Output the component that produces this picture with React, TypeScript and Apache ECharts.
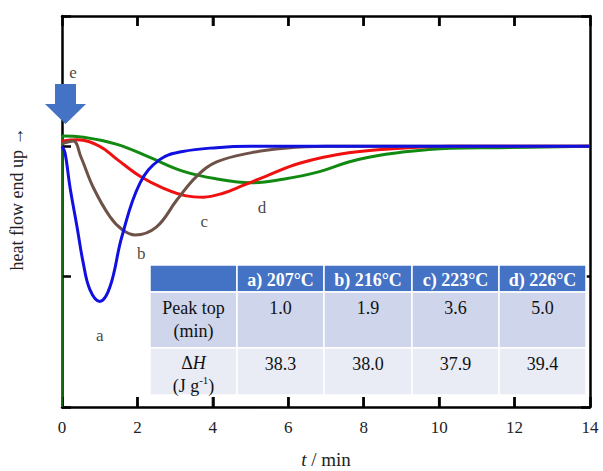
import { useEffect, useRef } from "react";
import * as echarts from "echarts";

const FONT = "Liberation Serif, serif";

const xTickVals = [2, 4, 6, 8, 10, 12];

// curve a (207 °C)
const tA = [0, 0.08, 0.21, 0.4, 0.56, 0.74, 1.0, 1.27, 1.59, 2.07, 2.6, 3.2, 4.1, 5, 6, 8, 10, 12, 14];
const vA = [0, -0.05, -0.31, -0.62, -0.89, -1.1, -1.19, -1.08, -0.69, -0.28, -0.1, -0.04, -0.01, 0, 0, 0, 0, 0, 0];
// curve b (216 °C)
const tB = [0, 0.3, 0.5, 0.82, 1.27, 1.6, 1.94, 2.5, 3.05, 3.57, 4.1, 5.0, 5.9, 7, 10, 14];
const vB = [0.02, 0.04, -0.08, -0.31, -0.54, -0.64, -0.68, -0.62, -0.41, -0.23, -0.12, -0.05, -0.015, 0, 0, 0];
// curve c (223 °C)
const tC = [0, 0.4, 1.0, 1.46, 2.07, 2.68, 3.3, 3.75, 4.27, 4.8, 5.4, 6.3, 7.6, 9, 10.3, 12, 14];
const vC = [0.04, 0.05, 0, -0.1, -0.23, -0.32, -0.38, -0.39, -0.36, -0.3, -0.23, -0.13, -0.05, -0.015, 0, 0, 0];
// curve d (226 °C)
const tD = [0, 0.56, 1.46, 2.33, 3.2, 4.1, 5.0, 5.9, 6.75, 7.6, 8.1, 9, 10.3, 11.6, 14];
const vD = [0.08, 0.07, 0.015, -0.085, -0.19, -0.25, -0.28, -0.25, -0.2, -0.12, -0.085, -0.045, -0.015, -0.01, 0];
// vertical start of curve d
const tDStart = [0, 0];
const vDStart = [-2, 0.08];

const curveNames = ["a", "b", "c", "d", "e"];
const curveLabelT = [1.0, 2.1, 3.77, 5.3, 0.29];
const curveLabelV = [-1.45, -0.82, -0.58, -0.47, 0.57];

const tableHeaders = ["", "a) 207°C", "b) 216°C", "c) 223°C", "d) 226°C"];
const peakTop = ["1.0", "1.9", "3.6", "5.0"];
const deltaH = ["38.3", "38.0", "37.9", "39.4"];

const Y_MIN = -2;
const Y_MAX = 1;

const zip = (t: number[], v: number[]) => t.map((x, i) => [x, v[i]]);

const mkLine = () => ({ show: true, onZero: false, lineStyle: { color: "#000", width: 2.5 } });
const mkTick = (len: number) => ({ show: true, inside: true, length: len, lineStyle: { color: "#000", width: 2.5 } });

export default function App() {
  const ref = useRef<HTMLDivElement>(null);
  useEffect(() => {
    if (!ref.current) return;
    const chart = echarts.init(ref.current, undefined, { renderer: "svg" });

    // table
    const tx = 150, ty = 265;
    const colW = [87, 87, 88, 87, 87];
    const rowH = [27, 56, 47];
    const rowBg = ["#4472C4", "#CFD5EA", "#E9EBF5"];
    const table: any[] = [];
    let yy = ty;
    for (let r = 0; r < 3; r++) {
      let xx = tx;
      for (let c = 0; c < 5; c++) {
        table.push({
          type: "rect",
          shape: { x: xx, y: yy, width: colW[c], height: rowH[r] },
          style: { fill: rowBg[r], stroke: "#fff", lineWidth: 1.5 },
          z: 10,
        });
        const cx = xx + colW[c] / 2;
        if (r === 0 && c > 0) {
          table.push({
            type: "text", x: cx, y: yy + rowH[r] / 2 + 1, z: 11,
            style: { text: tableHeaders[c], fill: "#fff", fontFamily: FONT, fontWeight: "bold", fontSize: 18, align: "center", verticalAlign: "middle" },
          });
        }
        if (r === 1) {
          const txt = c === 0 ? "Peak top\n(min)" : peakTop[c - 1];
          table.push({
            type: "text", x: cx, y: yy + 4, z: 11,
            style: { text: txt, fill: "#111", fontFamily: FONT, fontSize: 18, lineHeight: 23, align: "center", verticalAlign: "top" },
          });
        }
        if (r === 2) {
          if (c === 0) {
            table.push({
              type: "text", x: cx, y: yy + 3, z: 11,
              style: {
                text: "{n|Δ}{i|H}\n{n|(J g}{s|-1}{n|)}",
                align: "center", verticalAlign: "top", fill: "#111",
                rich: {
                  n: { fontFamily: FONT, fontSize: 18, lineHeight: 23, fill: "#111" },
                  i: { fontFamily: FONT, fontSize: 18, fontStyle: "italic", lineHeight: 23, fill: "#111" },
                  s: { fontFamily: FONT, fontSize: 11, lineHeight: 23, verticalAlign: "top", fill: "#111" },
                },
              },
            });
          } else {
            table.push({
              type: "text", x: cx, y: yy + 4, z: 11,
              style: { text: deltaH[c - 1], fill: "#111", fontFamily: FONT, fontSize: 18, lineHeight: 23, align: "center", verticalAlign: "top" },
            });
          }
        }
        xx += colW[c];
      }
      yy += rowH[r];
    }

    const lineSeries = (data: number[][], color: string, width = 3, smooth: any = 0.4) => ({
      type: "line", data, smooth, showSymbol: false, symbol: "none",
      lineStyle: { color, width }, z: 3,
    });

    const tickSeries = (yVal: number, offset: number) => ({
      type: "scatter", silent: true, clip: false, z: 1,
      symbol: "rect", symbolSize: [2.5, 10], symbolOffset: [0, offset],
      itemStyle: { color: "#000" },
      data: xTickVals.map((x) => [x, yVal]),
    });

    chart.setOption({
      animation: false,
      backgroundColor: "#fff",
      grid: { left: 62, right: 13, top: 16, bottom: 64, containLabel: false, outerBoundsMode: "none" },
      xAxis: [
        {
          type: "value", min: 0, max: 14, interval: 2, position: "bottom",
          axisLine: mkLine(), axisTick: mkTick(10), splitLine: { show: false },
          axisLabel: { color: "#222", fontFamily: FONT, fontSize: 17, margin: 12 },
          name: "{i|t}{n| / min}", nameLocation: "middle", nameGap: 43,
          nameTextStyle: {
            rich: {
              i: { fontFamily: FONT, fontSize: 19, fontStyle: "italic", color: "#222" },
              n: { fontFamily: FONT, fontSize: 19, color: "#222" },
            },
          },
        },
        {
          type: "value", min: 0, max: 14, interval: 2, position: "top",
          axisLine: mkLine(), axisTick: mkTick(10), splitLine: { show: false }, axisLabel: { show: false },
        },
      ],
      yAxis: [
        {
          type: "value", min: Y_MIN, max: Y_MAX, interval: 1, position: "left",
          axisLine: mkLine(), axisTick: mkTick(9), splitLine: { show: false }, axisLabel: { show: false },
        },
        {
          type: "value", min: Y_MIN, max: Y_MAX, interval: 1, position: "right",
          axisLine: mkLine(), axisTick: mkTick(9), splitLine: { show: false }, axisLabel: { show: false },
        },
      ],
      series: [
        tickSeries(Y_MIN, -5),
        tickSeries(Y_MAX, 5),
        lineSeries(zip(tDStart, vDStart), "#1a8a1a", 1.5, false),
        lineSeries(zip(tD, vD), "#128a12"),
        lineSeries(zip(tC, vC), "#f01010"),
        lineSeries(zip(tB, vB), "#6e5248"),
        lineSeries(zip(tA, vA), "#1010e0"),
        {
          type: "scatter", symbolSize: 0, z: 5,
          data: curveNames.map((n, i) => ({ value: [curveLabelT[i], curveLabelV[i]], name: n })),
          label: {
            show: true, position: "inside", formatter: (p: any) => p.name,
            color: "#111", fontFamily: FONT, fontSize: 17,
          },
        },
      ],
      graphic: [
        {
          type: "polygon", z: 20,
          shape: {
            points: [[55, 84], [76, 84], [76, 104], [86, 104], [65.5, 124], [45, 104], [55, 104]],
          },
          style: { fill: "#4472C4" },
        },
        {
          type: "text", x: 17, y: 199, rotation: Math.PI / 2, z: 20,
          style: { text: "heat flow end up →", fill: "#222", fontFamily: FONT, fontSize: 18, align: "center", verticalAlign: "middle" },
        },
        ...table,
      ],
    });
    return () => chart.dispose();
  }, []);
  return <div ref={ref} style={{ position: "fixed", left: 0, top: 0, width: 603, height: 471 }} />;
}
